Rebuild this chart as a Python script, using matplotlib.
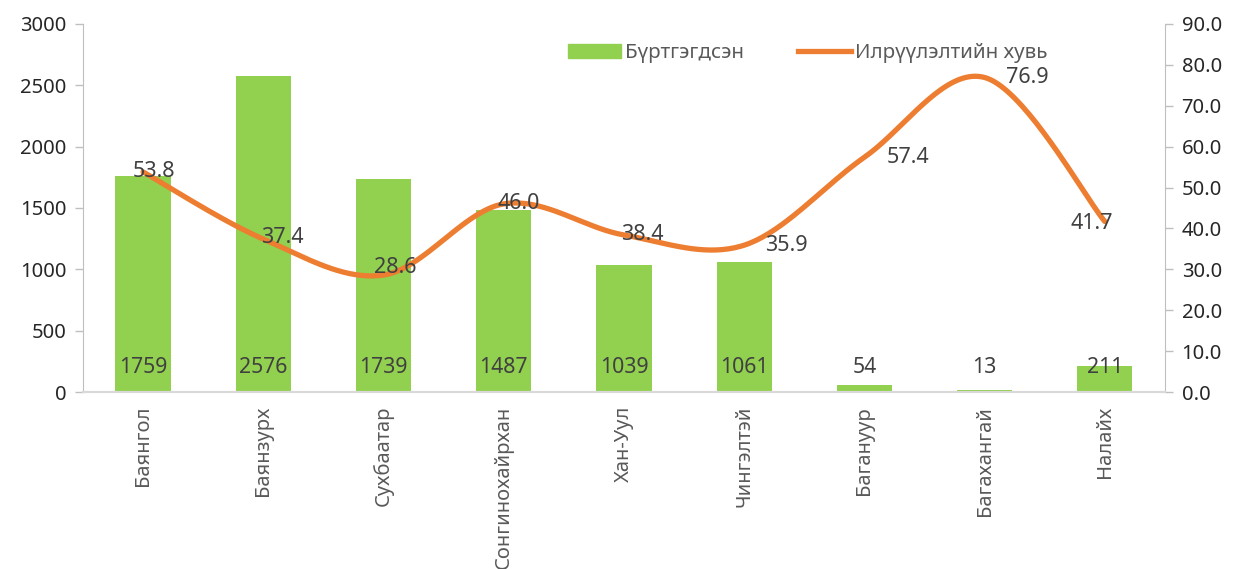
import numpy as np
from matplotlib import pyplot as plt
from matplotlib.lines import Line2D
from matplotlib.patches import Patch

districts = ["Баянгол", "Баянзурх", "Сухбаатар", "Сонгинохайрхан", "Хан-Уул",
             "Чингэлтэй", "Багануур", "Багахангай", "Налайх"]
registered = [1759, 2576, 1739, 1487, 1039, 1061, 54, 13, 211]
detection_rate = [53.8, 37.4, 28.6, 46.0, 38.4, 35.9, 57.4, 76.9, 41.7]

bar_color = "#92D050"
line_color = "#ED7D31"
text_color = "#404040"

plt.rcParams["font.family"] = ["Noto Sans", "DejaVu Sans"]


def smooth(xs, ys, n=40):
    # Catmull-Rom style bezier, like the "smoothed line" option in spreadsheets
    xs = np.asarray(xs, float)
    ys = np.asarray(ys, float)
    px = np.concatenate([[xs[0]], xs, [xs[-1]]])
    py = np.concatenate([[ys[0]], ys, [ys[-1]]])
    out_x, out_y = [], []
    t = np.linspace(0, 1, n)
    for i in range(1, len(px) - 2):
        p0 = np.array([px[i], py[i]])
        p3 = np.array([px[i + 1], py[i + 1]])
        p1 = p0 + (np.array([px[i + 1], py[i + 1]]) - np.array([px[i - 1], py[i - 1]])) / 6
        p2 = p3 - (np.array([px[i + 2], py[i + 2]]) - p0) / 6
        pts = ((1 - t) ** 3)[:, None] * p0 + (3 * (1 - t) ** 2 * t)[:, None] * p1 \
            + (3 * (1 - t) * t ** 2)[:, None] * p2 + (t ** 3)[:, None] * p3
        out_x.extend(pts[:, 0])
        out_y.extend(pts[:, 1])
    return np.array(out_x), np.array(out_y)


fig = plt.figure(figsize=(12.33, 5.69), dpi=100)
ax = fig.add_axes([0.0673, 0.311, 0.8775, 0.647])
ax2 = ax.twinx()

x = np.arange(len(districts))
ax.bar(x, registered, width=0.46, color=bar_color, zorder=2)
ax.set_xlim(-0.5, len(districts) - 0.5)
ax.set_ylim(0, 3000)
ax.set_yticks(range(0, 3001, 500))
ax.set_xticks(x)
ax.set_xticklabels(districts, rotation=90, fontsize=14.5, color="#595959")
ax.tick_params(axis="x", length=0, pad=10)
ax.tick_params(axis="y", labelsize=14.5, labelcolor="#262626", color="#BFBFBF",
               length=6, width=1, pad=6)

for i, v in enumerate(registered):
    ax.annotate(str(v), (i, 0), xytext=(0, 18), textcoords="offset points",
                ha="center", va="center", fontsize=15.3, color=text_color, zorder=4)

sx, sy = smooth(x, detection_rate)
ax2.plot(sx, sy, color=line_color, lw=3.8, solid_capstyle="round", zorder=3)
ax2.set_ylim(0, 90)
ax2.set_yticks(np.arange(0, 91, 10))
ax2.set_yticklabels([f"{v:.1f}" for v in np.arange(0, 91, 10)])
ax2.tick_params(axis="y", labelsize=14.5, labelcolor="#262626", color="#BFBFBF",
                length=6, width=1, pad=6)

# label offsets in pixels (dx, dy) relative to each point
label_offsets = [(11, 0), (19, 2), (12, 8), (15, 0), (18, 0),
                 (42, 0), (44, 0), (43, 0), (-13, -2)]
for i, v in enumerate(detection_rate):
    dx, dy = label_offsets[i]
    ax2.annotate(f"{v:.1f}", (i, v), xytext=(dx * 0.72, dy * 0.72),
                 textcoords="offset points", ha="center", va="center",
                 fontsize=15.5, color=text_color, zorder=5)

for a in (ax, ax2):
    a.spines["top"].set_visible(False)
    a.spines["left"].set_color("#BFBFBF")
    a.spines["right"].set_color("#BFBFBF")
    a.spines["bottom"].set_color("#D9D9D9")
    a.spines["bottom"].set_linewidth(1.5)
ax2.spines["left"].set_visible(False)
ax.spines["right"].set_visible(False)

handles = [Patch(color=bar_color, label="Бүртгэгдсэн"),
           Line2D([], [], color=line_color, lw=3.8, label="Илрүүлэлтийн хувь")]
fig.legend(handles=handles, loc="center", bbox_to_anchor=(0.655, 0.907), ncol=2,
           frameon=False, fontsize=14.8, labelcolor="#595959", handlelength=2.6,
           handletextpad=0.2, columnspacing=2.6)

fig.savefig("out.png", dpi=100)
